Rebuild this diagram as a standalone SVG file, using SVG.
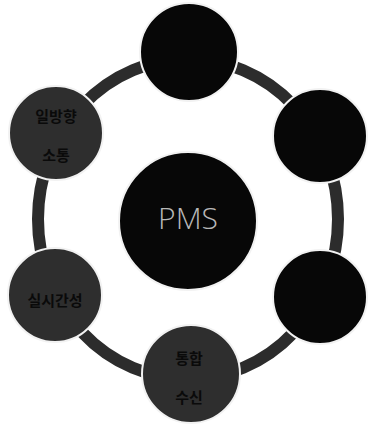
<svg xmlns="http://www.w3.org/2000/svg" width="368" height="430" viewBox="0 0 368 430">
<style>
.dark{fill:#070707;stroke:#f2f2f2;stroke-width:2}
.gray{fill:#2e2e2e;stroke:#f2f2f2;stroke-width:2}
.lbl{font-family:"Noto Sans CJK KR","Noto Sans",sans-serif;font-weight:bold;font-size:15px;fill:#0a0a0a;text-anchor:middle}
.pms{font-family:"Open Sans","Liberation Sans",sans-serif;font-weight:300;font-size:30px;fill:#b8b8b8;text-anchor:middle}
</style>
<rect width="368" height="430" fill="#ffffff"/>
<g id="connectors">
<ellipse cx="188" cy="219" rx="150" ry="160" fill="none" stroke="#2c2c2c" stroke-width="12"/>
</g>
<g id="node-top"><circle class="dark" cx="189" cy="52" r="49"/></g>
<g id="node-upper-right"><circle class="dark" cx="320" cy="136" r="47"/></g>
<g id="node-lower-right"><circle class="dark" cx="320" cy="297" r="47"/></g>
<g id="node-bottom"><circle class="gray" cx="191" cy="374" r="49"/>
<text class="lbl" x="189" y="364">통합</text>
<text class="lbl" x="189" y="403">수신</text></g>
<g id="node-lower-left"><circle class="gray" cx="55" cy="295" r="47"/>
<text class="lbl" x="55" y="306">실시간성</text></g>
<g id="node-upper-left"><circle class="gray" cx="56" cy="133" r="47"/>
<text class="lbl" x="56" y="122">일방향</text>
<text class="lbl" x="56" y="161">소통</text></g>
<g id="node-center"><circle class="dark" cx="188" cy="221" r="69"/>
<text class="pms" x="188" y="229">PMS</text></g>
</svg>
